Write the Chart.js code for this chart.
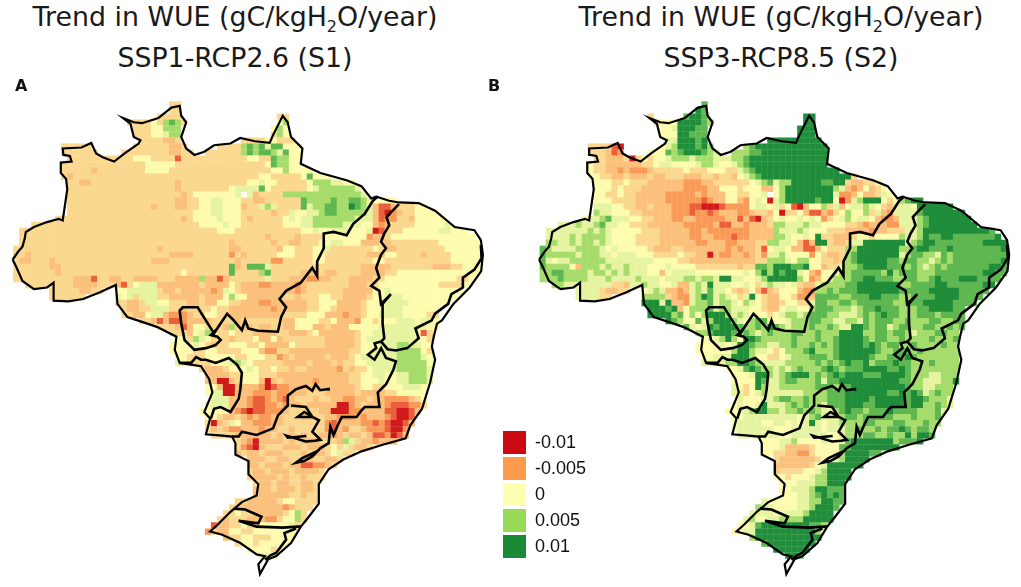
<!DOCTYPE html>
<html><head><meta charset="utf-8">
<style>
html,body{margin:0;padding:0;background:#fff;width:1021px;height:587px;overflow:hidden;position:relative}
canvas{position:absolute;filter:blur(0.5px)}
.t{position:absolute;font-family:"DejaVu Sans";font-size:26.8px;color:#1a1a1a;white-space:nowrap;text-align:center;transform:translateX(-50%)}
.t sub{font-size:16px;line-height:0;vertical-align:-6px}
.p{position:absolute;font-family:"DejaVu Sans";font-weight:bold;font-size:16px;color:#111}
.k{position:absolute;left:503px;width:23px;height:23px}
.l{position:absolute;left:535px;font-family:"Liberation Sans";font-size:18px;color:#111;line-height:23px}
</style></head><body>
<canvas id="a" width="510" height="497" style="left:0;top:90px;width:510px;height:497px"></canvas>
<canvas id="b" width="495" height="497" style="left:526px;top:90px;width:495px;height:497px"></canvas>
<div id="deco"></div>
<script src="https://cdn.jsdelivr.net/npm/chart.js@4/dist/chart.umd.min.js"></script>
<script>
const titleLines=["Trend in WUE (gC/kgH<sub>2</sub>O/year)"];
const scenarioA="SSP1-RCP2.6 (S1)", scenarioB="SSP3-RCP8.5 (S2)";
const legendLabels=["-0.01","-0.005","0","0.005","0.01"];
const legendColors=["#cc0a14","#fd9b4c","#ffffb2","#98d955","#1a8a37"];
// value classes used in the rows below (digit -> trend)
const levelValues=[-0.01,-0.0075,-0.005,-0.0035,-0.002,0,0.002,0.005,0.0075,0.01];
const levelColors=["#d01a1c","#ea5f3c","#f99b58","#fbc07c","#fbd88f","#fdfbae","#e6f4a2","#a6dc6c","#5fb752","#1f8d3a"];
// "row startColumn values" on a 0.5 degree grid
const rowsA=[
"0 26 44","1 26 44","2 24 4444","2 44 44","3 19 4444547874","3 44 57","4 20 44455777","4 43 575","5 20 44455677","5 43 475",
"6 21 4444334","6 38 444455444","7 8 44444","7 20 444444334","7 34 44447878688555","8 8 444444","8 18 444444443344","8 32 4444447878876855",
"9 9 444444444445554444 14 4444444444 554487755",
"10 8 4444444444 4444555554 4444444444 4444587755",
"11 8 4444434444 4444555544 4444444444 4444455755 55",
"12 8 4344444444 4444444444 4444444444 4445544444 58555",
"13 9 4433444444 4444444434 4444444444 5565544444 57776655",
"14 9 4444444444 4444444434 4444444566 6685444444 567777776",
"15 9 4444444444 4444444443 45555555 6. 6344447777 7777777776",
"16 9 4444444444 4444444433 4455665554 4334444448 7777877887 65555",
"17 9 4444444444 4444344433 4455665553 4467644448 6778877987 6311344455",
"18 9 4444444444 4444444444 4555665554 4444344655 6678877777 631023445555",
"19 7 444444444444 4444444443 4555565554 3444445656 6777777766 6312244355555",
"20 3 4444444444 4444444444 4444444455 5565544444 4455566777 7766655323 4444555556",
"21 1 4444444444 4444444444 4444444444 4445554444 4444444556 5566655560 1444555555 66555",
"22 1 4444444444 4444444444 4444444444 4444444444 4344443444 4555555523 3455555555 555555",
"23 1 4444444444 4444444444 4444444444 4444434444 4434433444 5566555333 4344444444 5555555",
"24 0 4444444444 4444444444 4444344444 4444443344 4444355444 5564444444 5433444444 44555555",
"25 0 4434444444 4444444444 4444443333 4444442434 4444555444 5544444443 3355444434 44455555",
"26 0 4334443444 4444444444 4443334444 4444444344 4442244444 5544444444 5544444444 44455555",
"27 0 4444443344 4444444444 4444444444 4444448348 8864444444 4444444433 3334444444 33344555",
"28 0 4444444344 4444444444 4444444454 4444448444 4784444433 3433444433 3344555555 55555555",
"29 0 4444444444 3331443344 3333444333 3733134444 4464443332 2334443333 4455555555 5555445",
"30 2 4444444433 3344431456 6633333334 3333543332 2333323444 4444333445 5555555554 4445",
"31 6 444443344","31 17 5566666433 4333332365 4333333333 2344444433 3335565555 55555555",
"32 6 444444","32 17 6564666443 3333433357 5533333344 3444554433 3345566655 5555555",
"33 17 4433466554 4433433554 4333223333 3344555333 3455666665 555555",
"34 18 4334466644 3444454433 3333323333 3445543333 4555666555 555",
"35 18 4433566322 2344554433 3333333444 4555333233 4556666555 544",
"36 21 4431311233 3344443444 4444335555 4453332554 5556665665",
"37 24 4443135544 4374334334 4335553343 3355555666 6666655",
"38 26 4443567544 5444333344 3334533333 3455666666 6514",
"39 27 5547654443 4445335344 4444433333 4566666666 554",
"40 26 5555654344 5554453333 5444443333 3455566677 6655",
"41 26 5555445544 4455532244 3333333333 4455666677 7754",
"42 27 5544455555 4455544234 3333343334 5666666777 765",
"43 27 6544445556 7654444433 3343334344 5566666777 775",
"44 31 4333455565 4454434433 3332434456 666777776",
"45 32 3333445554 4433333333 3333445566 55667776",
"46 32 3300345553 0343333323 3333445556 55667776",
"47 32 5530033332 0122333333 3333345544 5556665",
"48 32 5660033322 2322333444 3333343333 4455555",
"49 33 6663332112 3213444344 3322334332 222345",
"50 32 5666333211 2232334333 3300234333 2111224",
"51 31 5555532101 1222344444 3300022333 3110013",
"52 32 5543343232 2334443344 3322232333 21001",
"53 32 4034653322 2334444444 2133332212 10013",
"54 32 4343223332 3344344444 2132443222 1002",
"55 33 4444333333 4343434433 2343343112 013",
"56 37 4320333343 4333444376 4332333",
"57 37 4210344433 3433345464 334",
"58 37 3433433344 4343345644",
"59 39 3334433443 344334",
"60 39 3343334331 12234",
"61 39 4334333433 334",
"62 39 4333343443 444",
"63 40 43343344334","64 40 33343334334","65 40 33333344344",
"66 37 44333334554444","67 36 44333333323444","68 35 44544333334574","69 34 434443332245574",
"70 33 133445445555564","71 32 243355445555555","72 35 344554445555","73 37 455455555","74 39 555545","75 41 565"
];
const rowsB=[
"0 27 8","1 26 98","2 18 4","2 24 8998","2 44 99","3 19 4555999987","3 44 99","4 20 55699988","4 43 999","5 20 55599888","5 43 999",
"6 21 6699989","6 38 999999999","7 8 444410","7 20 567999897","7 34 78999999999999","8 8 444312","8 18 555878999876","8 32 7778899999999999",
"9 9 4433340454 5567776777 6667789999 999999999",
"10 8 5443333334 4566555567 7655678999 9999999999",
"11 8 5443323222 3444445444 5554467899 9999999999 99",
"12 8 5544334333 4334443334 4344356789 9999999999 99994",
"13 9 5554454443 3333322233 4444445678 6779999988 99433445",
"14 9 5554544433 3333322223 3555455533 5799999999 763235345",
"15 9 5544544333 3322222323 33554 4556. 5799999999 6223533465",
"16 9 5554444333 3322222212 3355325650 6799999899 5026799954 57899",
"17 9 6665544334 3332221100 0122225665 6451035574 6356676543 6665999999",
"18 9 7665554433 3332221221 2333223443 5044531132 4575574632 666689999999",
"19 7 566786665544 3332233222 2233131034 5655656524 5675665322 3666789999999",
"20 3 6667667866 5544433333 3222223113 3233347766 6766555544 3233322666 7899999999",
"21 1 6666666767 6555554443 3333223222 2222333376 6676555444 3333233444 6679999999 99998",
"22 1 6666767777 6555544443 3333223322 2122333377 6556594433 3455455557 6679889988 888889",
"23 1 7766767767 6555544443 3333322333 2233344776 6531399433 4669999999 6789988888 8889999",
"24 0 8766667777 6565555543 3344333333 3232334156 6533113544 4779999999 7789988898 88888889",
"25 0 8777776777 6656665554 4445443303 2233234266 7555525433 4789999999 6788776878 88888888",
"26 0 8656677777 7666666665 5554433333 3333334477 7657755443 4789999988 7887767878 88888889",
"27 0 8777753777 6766766655 5655554444 4443448879 9988955344 6778999988 8787678788 88888998",
"28 0 7788777767 7676766655 3566665555 5555657979 8996532556 7788888797 8887778888 88889988",
"29 0 7778777766 6766667666 5666776776 9966556799 9997523567 7788998887 7887789888 9998888",
"30 2 7766666666 4436676655 6336769666 5565467665 6433677778 8999999977 8888998888 8899",
"31 6 666643344","31 17 5676332367 6866543453 1345553227 7878889999 9998888899 99988888",
"32 6 666644","32 17 7777432267 9867654695 4335542238 8887788899 8887788889 9998888",
"33 17 9996933267 7867765765 4334554468 8778878888 8877888999 998888",
"34 18 9998935777 8677666554 3356655788 8777678898 8877788999 988",
"35 18 9999785757 9997676555 4567767888 7766678789 8877788878 888",
"36 21 9875586799 9765788555 6777887766 7768788877 8777887788",
"37 24 8656989998 7787987677 7877876699 8788678877 8877878",
"38 26 7789998787 6787778877 8777999977 8878876777 8877",
"39 27 5567975998 7777787778 7789999878 8778777787 778",
"40 26 5555656998 7766778778 7878999989 8788778777 7877",
"41 26 5555557997 6654577789 7778999999 8778887877 7777",
"42 27 5566699975 5445677788 8789999987 7888987777 777",
"43 27 6666779987 6666777778 7878988978 8898877787 777",
"44 31 5568987767 6787778987 8889999889 877777777",
"45 32 5556997678 9997878989 9988899998 77766777",
"46 32 5555986678 8777868899 9999999988 77666779",
"47 32 6545976677 7777888788 9999999998 7766777",
"48 32 6645676666 6677778889 9999998898 9867877",
"49 33 6555667887 7877788899 9989999989 987776",
"50 32 5655696667 8787768889 9988999998 9977876",
"51 31 5566799776 7787876578 9887888988 8877786",
"52 32 5566666666 6567866678 8788888777 87778",
"53 32 5666655665 6569656677 7788777887 77877",
"54 32 5666666555 6666656667 7877878898 7887",
"55 33 6666666556 6666655677 7887787797 998",
"56 37 5556675555 6556899999 9978889",
"57 37 5556333345 5558899999 999",
"58 37 5544332245 5567999988",
"59 39 4333333455 679999",
"60 39 3333334569 99999",
"61 39 3444455679 999",
"62 39 5545556779 999",
"63 40 55566677999","64 40 55666799888","65 40 55566789898",
"66 37 65555566779988","67 36 76655556679998","68 35 66665566679999","69 34 675566777799999",
"70 33 556899999999887","71 32 556699999999997","72 35 799999999999","73 37 899999999","74 39 999999","75 41 998"
];
const outerLon=[-74.06,-73.59,-73.24,-73.05,-72.96,-72.28,-71.19,-70.23,-69.88,-69.5,-69.6,-70.04,-70.04,-69.14,-69.28,-69.82,-69.88,-68.32,-67.5,-67.09,-66.54,-65.59,-64.63,-63.54,-63.4,-63.95,-64.22,-64.85,-63.95,-63.26,-61.9,-60.81,-60.12,-59.99,-59.58,-59.99,-59.58,-58.89,-58.07,-57.25,-55.89,-55.07,-53.84,-52.61,-52.34,-51.52,-51.11,-50.83,-49.88,-50.02,-48.38,-46.19,-44.96,-44.14,-43.73,-42.64,-41.82,-40.18,-38.81,-37.17,-35.53,-34.99,-34.82,-34.96,-35.92,-37.28,-38.24,-38.65,-38.92,-39.08,-38.81,-39.22,-39.9,-40.86,-41.27,-43.18,-44.95,-46.46,-47.69,-48.51,-48.51,-49.46,-50.01,-50.83,-52.06,-52.74,-53.42,-53.56,-53.01,-53.7,-55.06,-56.57,-57.58,-56.98,-55.88,-54.93,-53.7,-53.56,-54.38,-54.38,-55.47,-55.47,-55.75,-56.57,-57.93,-57.58,-58.07,-57.39,-57.66,-58.34,-60.12,-60.53,-60.39,-62.03,-63.26,-64.49,-65.31,-65.45,-66.82,-68.18,-69.41,-70.64,-70.64,-71.19,-72.28,-73.24,-73.78,-74.06];
const outerLat=[-7.65,-6.97,-6.56,-5.88,-5.34,-4.93,-4.52,-4.25,-4.39,-1.8,-0.93,-0.44,0.43,0.51,0.97,1.06,1.6,1.68,2.06,1.19,0.87,0.51,1.25,2.01,2.28,2.55,3.64,4.13,3.78,3.7,4.13,5.0,5.14,4.32,3.78,2.55,1.6,1.06,1.33,1.87,2.01,2.47,2.2,2.06,2.69,4.32,3.78,2.55,1.6,0.32,-0.44,-1.04,-1.53,-2.56,-2.4,-2.75,-2.89,-2.94,-3.57,-4.93,-5.2,-6.02,-7.24,-8.6,-9.96,-11.32,-12.69,-12.96,-14.05,-14.87,-15.96,-17.86,-20.04,-21.4,-22.49,-23.03,-23.58,-24.26,-25.07,-26.3,-27.93,-29.16,-29.84,-31.2,-32.29,-32.56,-33.78,-32.97,-32.29,-32.15,-31.2,-30.52,-30.24,-29.7,-28.61,-27.8,-27.25,-26.3,-25.48,-24.39,-23.85,-22.9,-22.35,-22.27,-22.16,-20.86,-20.31,-18.68,-17.59,-16.5,-16.23,-15.14,-14.05,-13.23,-12.82,-12.41,-11.32,-9.75,-10.37,-10.92,-11.11,-11.05,-9.56,-9.96,-10.1,-9.42,-8.2,-7.65];
const amazonLon=[-43.59,-44.0,-44.69,-45.64,-46.19,-47.28,-48.1,-48.1,-48.65,-48.65,-49.06,-50.02,-51.24,-51.79,-51.24,-51.65,-51.93,-53.57,-54.39,-54.66,-54.93,-55.61,-56.16,-56.71,-57.25,-57.94,-58.62,-59.85,-60.12,-59.99,-59.71,-58.89,-57.93,-57.11,-56.7,-56.98,-57.52,-57.11,-57.25];
const amazonLat=[-2.4,-2.75,-3.84,-4.66,-5.61,-5.34,-5.47,-6.7,-7.79,-9.01,-8.33,-9.56,-10.24,-10.92,-11.6,-12.41,-13.64,-13.56,-13.37,-12.69,-13.5,-12.69,-12.14,-12.96,-13.77,-12.69,-11.6,-11.6,-11.87,-12.96,-14.33,-15.14,-15.0,-14.73,-14.33,-14.05,-13.92,-13.51,-13.77];
const pantanalLon=[-60.12,-59.16,-58.75,-58.34,-57.93,-57.11,-56.02,-55.34,-54.93,-55.06,-55.2,-55.88,-56.7,-57.25,-57.52];
const pantanalLat=[-16.23,-16.23,-15.74,-15.96,-15.96,-16.23,-15.82,-16.37,-17.05,-18.41,-19.22,-20.31,-19.9,-20.04,-20.86];
const southLon=[-55.75,-55.2,-54.93,-53.7,-52.33,-51.92,-51.1,-51.1,-50.42,-49.6,-49.05,-48.78,-48.4,-47.69,-47.69];
const southLat=[-22.35,-22.35,-21.95,-22.22,-21.67,-20.59,-19.77,-18.95,-18.41,-18.14,-18.55,-18.0,-18.5,-18.4,-18.54];
const lobeLon=[-50.83,-49.6,-49.05,-50.28,-49.73,-49.05,-48.5,-49.05,-48.37,-48.85,-49.6,-51.24,-51.1,-49.55];
const lobeLat=[-19.77,-19.9,-20.72,-20.72,-20.31,-20.72,-21.0,-21.95,-22.63,-22.7,-22.76,-22.27,-22.45,-22.3];
const eastLon=[-41.82,-42.5,-42.86,-42.64,-43.05,-43.32,-42.91,-43.32,-43.73,-43.46,-44.14,-43.46,-43.32,-42.5,-43.19,-43.19,-43.05,-43.31,-43.86,-43.72,-44.41,-43.86,-43.31,-42.9,-42.08,-42.28,-42.9,-43.59,-43.45,-44.68,-44.95,-45.36,-46.59,-46.87,-47.28,-47.55,-47.69,-48.37,-49.05,-49.74,-50.42,-49.9,-48.6];
const eastLat=[-3.03,-3.71,-4.11,-4.79,-5.47,-6.15,-6.7,-7.24,-8.33,-9.15,-9.83,-10.24,-11.32,-10.51,-11.32,-12.96,-14.18,-14.46,-14.6,-15.0,-15.55,-15.96,-15.01,-15.82,-16.1,-16.78,-18.0,-18.68,-19.9,-19.9,-20.18,-20.72,-20.72,-21.27,-22.22,-21.54,-22.9,-23.31,-24.0,-24.39,-24.53,-24.15,-23.55];
const forestLon=[-34.99,-34.93,-35.53,-36.49,-36.49,-37.45,-37.72,-38.81,-39.09,-40.45,-40.18,-41.13,-42.08,-42.77,-43.31];
const forestLat=[-6.43,-7.52,-8.47,-9.15,-9.96,-10.51,-11.32,-12.14,-12.69,-13.37,-14.18,-15.0,-15.2,-15.09,-14.46];
const pampaLon=[-55.61,-54.66,-53.29,-53.56,-55.2,-53.7,-51.51,-50.28,-50.01];
const pampaLat=[-28.34,-28.42,-29.02,-29.56,-29.35,-29.84,-29.92,-29.84,-29.84];
const lagoonLon=[-50.4,-51.38,-51.24,-52.06,-52.5,-53.0];
const lagoonLat=[-30.0,-30.38,-30.92,-32.01,-32.2,-32.6];

const borders=[[outerLon,outerLat],[amazonLon,amazonLat],[pantanalLon,pantanalLat],[southLon,southLat],[lobeLon,lobeLat],[eastLon,eastLat],[forestLon,forestLat],[pampaLon,pampaLat],[lagoonLon,lagoonLat]];

function cells(rows){
  const pts=[],cols=[];
  rows.forEach(r=>{
    const m=r.match(/^(\d+) (\d+) (.*)$/);
    const j=+m[1],s=+m[2],d=m[3].replace(/ /g,'');
    for(let k=0;k<d.length;k++){
      if(d[k]==='.')continue;
      pts.push({x:-73.75+0.5*(s+k),y:5.25-0.5*j,v:levelValues[+d[k]]});
      cols.push(levelColors[+d[k]]);
    }
  });
  return {pts,cols};
}
function draw(id,rows,xmin,xmax){
  const c=cells(rows);
  const lines=borders.map((b,i)=>({
    type:'scatter',showLine:true,tension:0,pointRadius:0,order:0,
    borderColor:'#000',borderWidth:i===0?2.2:2.6,fill:false,
    data:b[0].map((x,n)=>({x,y:b[1][n]}))
  }));
  new Chart(document.getElementById(id),{
    type:'scatter',
    data:{datasets:[...lines,{data:c.pts,order:1,pointStyle:'rect',pointRadius:4.5,pointHoverRadius:4.5,
      pointBorderWidth:0,borderWidth:0,backgroundColor:c.cols,pointBackgroundColor:c.cols}]},
    options:{responsive:false,animation:false,events:[],devicePixelRatio:1,
      layout:{padding:0},
      plugins:{legend:{display:false},tooltip:{enabled:false},title:{display:false}},
      scales:{x:{type:'linear',display:false,min:xmin,max:xmax},y:{type:'linear',display:false,min:-34.485,max:6.086}}}
  });
}
draw('a',rowsA,-74.738,-32.934);
draw('b',rowsB,-74.779,-34.205);

const deco=document.getElementById('deco');
function add(cls,html,css){const e=document.createElement('div');e.className=cls;e.innerHTML=html;e.style.cssText=css;deco.appendChild(e);}
add('t',titleLines[0],'left:235px;top:1px');
add('t',scenarioA,'left:235px;top:42px');
add('t',titleLines[0],'left:781px;top:1px');
add('t',scenarioB,'left:781px;top:42px');
add('p','A','left:15px;top:76px');
add('p','B','left:488px;top:76px');
legendLabels.forEach((l,i)=>{
  add('k','',`top:${431+26*i}px;background:${legendColors[i]}`);
  add('l',l,`top:${431+26*i}px`);
});
</script></body></html>
